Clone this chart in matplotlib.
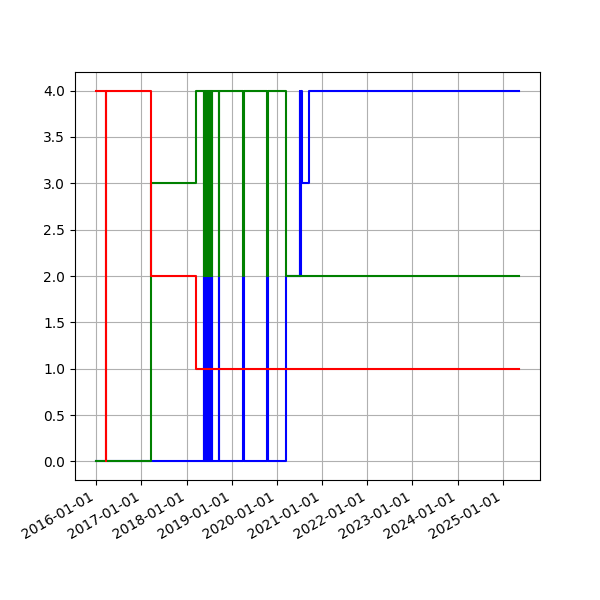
import matplotlib
matplotlib.use('Agg')
import matplotlib.pyplot as plt
import matplotlib.dates as mdates
import pandas as pd

# state changes
band_dates = ['2018-05-20', '2018-05-24', '2018-05-28', '2018-06-01', '2018-06-05',
              '2018-06-09', '2018-06-13', '2018-06-17', '2018-06-21', '2018-06-25',
              '2018-06-29', '2018-07-03', '2018-07-07', '2018-07-11', '2018-07-15',
              '2018-07-19', '2018-07-23', '2018-07-27']
spike_dates = ['2018-09-18', '2018-09-24', '2019-04-05', '2019-04-10',
               '2019-10-17', '2019-10-24']

red_dates = ['2016-01-01', '2016-03-20', '2016-03-22', '2017-03-18', '2018-03-17', '2025-05-10']
red_vals = [4, 0, 4, 2, 1, 1]

green_dates = (['2016-01-01', '2017-03-18', '2018-03-17'] + band_dates + spike_dates
               + ['2020-03-16', '2025-05-10'])
green_vals = [0, 3, 4] + [2, 4] * 9 + [2, 4] * 3 + [2, 2]

blue_dates = (['2016-01-01'] + band_dates + spike_dates
              + ['2020-03-16', '2020-07-04', '2020-07-09', '2020-07-14', '2020-07-22',
                 '2020-09-20', '2025-05-10'])
blue_vals = [0] + [2, 0] * 9 + [2, 0] * 3 + [2, 4, 2, 4, 3, 4, 4]

fig, ax = plt.subplots(figsize=(6, 6), dpi=100)
ax.plot(pd.to_datetime(blue_dates), blue_vals, color='blue', drawstyle='steps-post')
ax.plot(pd.to_datetime(green_dates), green_vals, color='green', drawstyle='steps-post')
ax.plot(pd.to_datetime(red_dates), red_vals, color='red', drawstyle='steps-post')

ax.xaxis.set_major_locator(mdates.YearLocator())
ax.xaxis.set_major_formatter(mdates.DateFormatter('%Y-%m-%d'))
ax.grid()
fig.autofmt_xdate()
fig.savefig('out.png')
